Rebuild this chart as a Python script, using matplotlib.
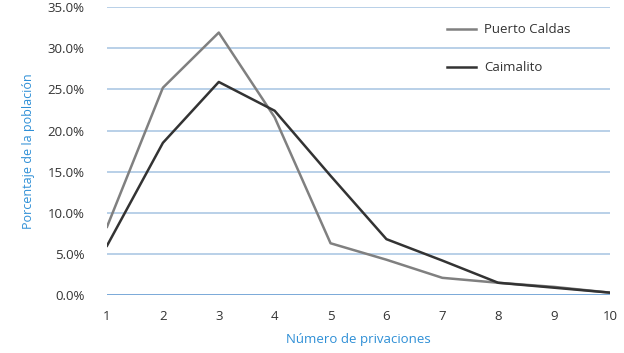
import matplotlib
matplotlib.use("Agg")
import matplotlib.pyplot as plt
from matplotlib.ticker import FuncFormatter

# Number of deprivations and share of population (%)
privaciones = [1, 2, 3, 4, 5, 6, 7, 8, 9, 10]
puerto_caldas = [8.3, 25.2, 31.9, 21.6, 6.3, 4.3, 2.1, 1.5, 1.0, 0.3]
caimalito = [6.0, 18.5, 25.9, 22.4, 14.5, 6.8, 4.2, 1.5, 0.9, 0.3]

plt.rcParams['font.family'] = ['Open Sans', 'DejaVu Sans']

fig = plt.figure(figsize=(6.24, 3.53), dpi=100)
ax = fig.add_axes([0.1715, 0.164, 0.806, 0.816])

# grid lines
for v in range(5, 40, 5):
    ax.axhline(v, color='#b3cde6', lw=1.3, zorder=0)
ax.axhline(0, color='#6fa3d6', lw=1.3, zorder=0)

ax.plot(privaciones, puerto_caldas, color='#808080', lw=1.8, label='Puerto Caldas')
ax.plot(privaciones, caimalito, color='#333333', lw=1.8, label='Caimalito')

ax.set_xlim(1, 10)
ax.set_ylim(0, 35)
ax.set_xticks(privaciones)
ax.set_yticks(range(0, 40, 5))
ax.yaxis.set_major_formatter(FuncFormatter(lambda v, p: f'{v:.1f}%'))
ax.tick_params(length=0, labelsize=9.5, colors='#333333')
ax.tick_params(axis='x', pad=11)
ax.tick_params(axis='y', pad=16)
for s in ax.spines.values():
    s.set_visible(False)

ax.set_xlabel('Número de privaciones', color='#2e8fd6', fontsize=9.5, labelpad=7)
ax.set_ylabel('Porcentaje de la población', color='#2e8fd6', fontsize=9, labelpad=9)

ax.legend(loc='upper left', bbox_to_anchor=(0.652, 0.985), frameon=False,
          fontsize=9.5, labelspacing=1.9, handlelength=2.2, handletextpad=0.6,
          labelcolor='#333333')

fig.savefig('out.png', dpi=100)
